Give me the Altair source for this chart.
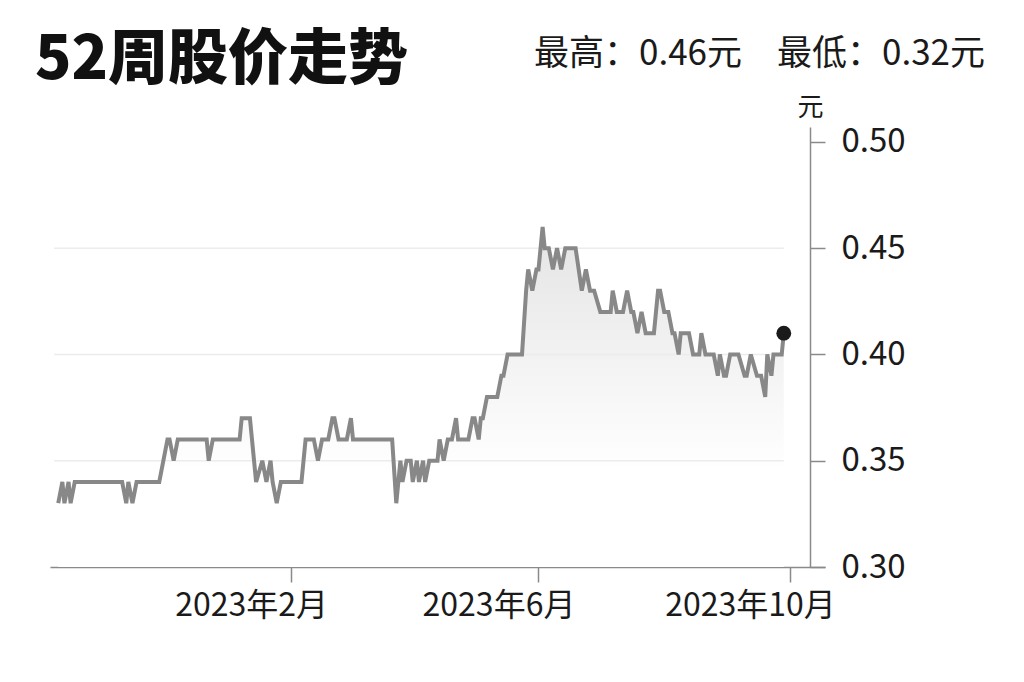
import altair as alt
import pandas as pd

# ---- data ----
dates = [
    "2022-10-11", "2022-10-13", "2022-10-14", "2022-10-16", "2022-10-17", "2022-10-19",
    "2022-11-11", "2022-11-13", "2022-11-14", "2022-11-16", "2022-11-18", "2022-11-29",
    "2022-12-03", "2022-12-04", "2022-12-06", "2022-12-08", "2022-12-22", "2022-12-23",
    "2022-12-25", "2023-01-07", "2023-01-08", "2023-01-12", "2023-01-15", "2023-01-18",
    "2023-01-20", "2023-01-22", "2023-01-23", "2023-01-25", "2023-01-27", "2023-02-06",
    "2023-02-08", "2023-02-12", "2023-02-14", "2023-02-16", "2023-02-19", "2023-02-21",
    "2023-02-22", "2023-02-24", "2023-02-28", "2023-03-02", "2023-03-03", "2023-03-22",
    "2023-03-24", "2023-03-26", "2023-03-27", "2023-03-29", "2023-03-31", "2023-04-01",
    "2023-04-03", "2023-04-04", "2023-04-06", "2023-04-07", "2023-04-09", "2023-04-13",
    "2023-04-14", "2023-04-16", "2023-04-18", "2023-04-20", "2023-04-22", "2023-04-23",
    "2023-04-28", "2023-04-30", "2023-05-01", "2023-05-03", "2023-05-04", "2023-05-05",
    "2023-05-07", "2023-05-12", "2023-05-14", "2023-05-15", "2023-05-17", "2023-05-24",
    "2023-05-26", "2023-05-27", "2023-05-29", "2023-05-31", "2023-06-01", "2023-06-03",
    "2023-06-04", "2023-06-06", "2023-06-08", "2023-06-10", "2023-06-12", "2023-06-14",
    "2023-06-19", "2023-06-22", "2023-06-24", "2023-06-26", "2023-06-28", "2023-07-01",
    "2023-07-06", "2023-07-07", "2023-07-09", "2023-07-12", "2023-07-14", "2023-07-16",
    "2023-07-17", "2023-07-19", "2023-07-21", "2023-07-23", "2023-07-27", "2023-07-29",
    "2023-07-30", "2023-08-01", "2023-08-03", "2023-08-05", "2023-08-06", "2023-08-08",
    "2023-08-09", "2023-08-13", "2023-08-15", "2023-08-18", "2023-08-19", "2023-08-21",
    "2023-08-25", "2023-08-27", "2023-08-28", "2023-08-30", "2023-08-31", "2023-09-02",
    "2023-09-06", "2023-09-09", "2023-09-10", "2023-09-12", "2023-09-15", "2023-09-17",
    "2023-09-19", "2023-09-20", "2023-09-22", "2023-09-23", "2023-09-27", "2023-09-28",
]
prices = [
    0.33, 0.34, 0.33, 0.34, 0.33, 0.34,
    0.34, 0.33, 0.34, 0.33, 0.34, 0.34,
    0.36, 0.36, 0.35, 0.36, 0.36, 0.35,
    0.36, 0.36, 0.37, 0.37, 0.34, 0.35,
    0.34, 0.35, 0.34, 0.33, 0.34, 0.34,
    0.36, 0.36, 0.35, 0.36, 0.36, 0.37,
    0.37, 0.36, 0.36, 0.37, 0.36, 0.36,
    0.33, 0.35, 0.34, 0.35, 0.35, 0.34,
    0.35, 0.34, 0.35, 0.34, 0.35, 0.35,
    0.36, 0.35, 0.36, 0.36, 0.37, 0.36,
    0.36, 0.37, 0.37, 0.36, 0.37, 0.37,
    0.38, 0.38, 0.39, 0.39, 0.40, 0.40,
    0.43, 0.44, 0.43, 0.44, 0.44, 0.46,
    0.45, 0.45, 0.44, 0.45, 0.44, 0.45,
    0.45, 0.43, 0.44, 0.43, 0.43, 0.42,
    0.42, 0.43, 0.42, 0.42, 0.43, 0.42,
    0.42, 0.41, 0.42, 0.41, 0.41, 0.43,
    0.43, 0.42, 0.42, 0.41, 0.41, 0.40,
    0.41, 0.41, 0.40, 0.40, 0.41, 0.40,
    0.40, 0.39, 0.40, 0.39, 0.39, 0.40,
    0.40, 0.39, 0.39, 0.40, 0.39, 0.39,
    0.38, 0.40, 0.39, 0.40, 0.40, 0.41,
]

grid_levels = [0.35, 0.40, 0.45]
grid_start = "2022-10-09"
grid_end = "2023-09-28"

y_ticks = [0.30, 0.35, 0.40, 0.45, 0.50]
x_tick_months = [2, 6, 10]

title_text = "52周股价走势"
stat_text = "最高：0.46元\u3000最低：0.32元"
unit_text = "元"

# ---- tables ----
df = pd.DataFrame({"date": dates, "price": prices})
last = pd.DataFrame({"date": [dates[-1]], "price": [prices[-1]]})
grid = pd.DataFrame({"level": grid_levels, "start": grid_start, "end": grid_end})

FONT = "Noto Sans CJK SC, sans-serif"
CJK = "Noto Sans CJK SC"

x_scale = alt.Scale(
    domain=[alt.DateTime(year=2022, month=10, date=7, utc=True),
            alt.DateTime(year=2023, month=10, date=18, utc=True)]
)
y_scale = alt.Scale(domain=[0.30, 0.507], nice=False, zero=False)

x_enc = alt.X(
    "date:T",
    scale=x_scale,
    axis=alt.Axis(
        values=[alt.DateTime(year=2023, month=m, date=1, utc=True) for m in x_tick_months],
        labelExpr="utcFormat(datum.value, '%Y') + '年' + (utcmonth(datum.value) + 1) + '月'",
        title=None,
        grid=False,
        domainColor="#8a8a8a",
        domainWidth=1.5,
        tickColor="#8a8a8a",
        tickWidth=1.5,
        tickSize=15,
        labelFont=FONT,
        labelFontSize=32,
        labelColor="#1a1a1a",
        labelOffset=-40,
        labelPadding=8,
    ),
)
y_enc = alt.Y(
    "price:Q",
    scale=y_scale,
    axis=alt.Axis(
        orient="right",
        offset=-15,
        values=y_ticks,
        format=".2f",
        grid=False,
        domainColor="#8a8a8a",
        domainWidth=1.5,
        tickColor="#8a8a8a",
        tickWidth=1.5,
        tickSize=15,
        labelFont=FONT,
        labelFontSize=33,
        labelColor="#1a1a1a",
        labelPadding=16,
        labelBaseline="middle",
        title=unit_text,
        titleAngle=0,
        titleAlign="center",
        titleBaseline="middle",
        titleX=0,
        titleY=-20,
        titleFont=CJK,
        titleFontSize=26,
        titleFontWeight="normal",
        titleColor="#1a1a1a",
    ),
)

grid_rules = alt.Chart(grid).mark_rule(color="#ececec", strokeWidth=1.5).encode(
    x=alt.X("start:T", scale=x_scale),
    x2="end:T",
    y=alt.Y("level:Q", scale=y_scale),
)

area = alt.Chart(df).mark_area(
    color=alt.Gradient(
        gradient="linear",
        stops=[alt.GradientStop(color="#e4e4e4", offset=0),
               alt.GradientStop(color="#ffffff", offset=0.72)],
        x1=1, x2=1, y1=0, y2=1,
    )
).encode(x=x_enc, y=y_enc, y2=alt.datum(0.30))

line = alt.Chart(df).mark_line(color="#888888", strokeWidth=4).encode(
    x=alt.X("date:T", scale=x_scale), y=alt.Y("price:Q", scale=y_scale)
)

dot = alt.Chart(last).mark_circle(color="#1a1a1a", opacity=1, size=220).encode(
    x=alt.X("date:T", scale=x_scale), y=alt.Y("price:Q", scale=y_scale)
)

title_mark = alt.Chart(pd.DataFrame({"t": [title_text]})).mark_text(
    font=CJK, fontSize=60, fontWeight=900, color="#111111",
    align="left", baseline="alphabetic"
).encode(text="t:N", x=alt.value(-15), y=alt.value(-48))

stat_mark = alt.Chart(pd.DataFrame({"t": [stat_text]})).mark_text(
    font=FONT, fontSize=35, color="#1a1a1a",
    align="right", baseline="alphabetic"
).encode(text="t:N", x=alt.value(935), y=alt.value(-62))

chart = alt.layer(area, grid_rules, line, dot, title_mark, stat_mark).properties(
    width=775,
    height=440,
    autosize=alt.AutoSizeParams(type="none"),
    padding={"left": 42, "top": 119, "right": 170, "bottom": 80},
    background="white",
).configure_view(stroke=None)

chart.save("out.html", embed_options={"renderer": "svg", "actions": False})
